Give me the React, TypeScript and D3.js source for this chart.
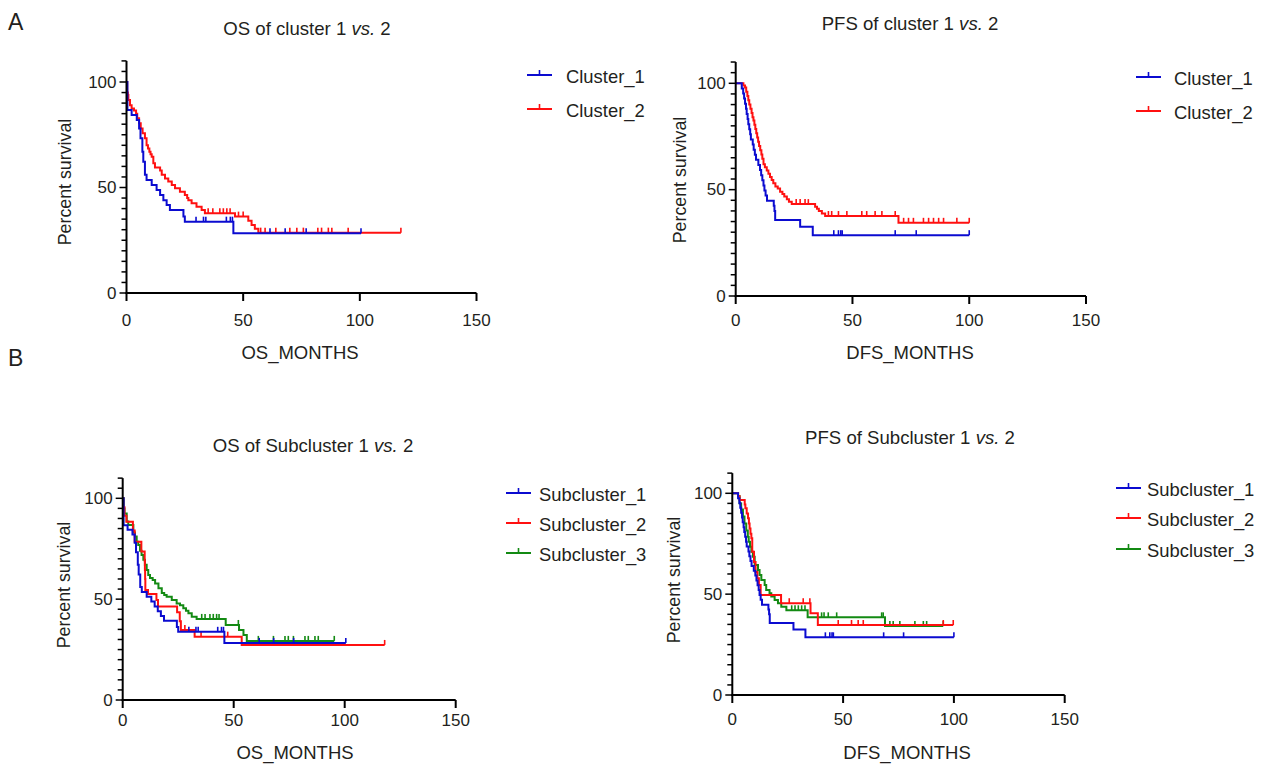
import React from "react";
import * as d3 from "d3";

// ---------- DATA ----------
// Kaplan-Meier steps: [time (months), survival % after the drop]
const os1Steps: [number, number][] = [[0.4,86.7],[2.2,84.4],[4.4,82],[5.4,78],[6,73.3],[6.8,67],[7.2,62.2],[7.9,56],[8.6,53.6],[10.8,51.2],[12.9,48.8],[14.4,46.4],[15.8,44],[17.2,41.7],[18.6,39.3],[24.4,36.2],[25,33.8],[45.8,28.3]];
const os1Censor: number[] = [29.8,33,34,42.8,44.5,45.4,61.5,68,77,100.5];

const os2Steps: [number, number][] = [[0.3,95],[0.6,93.8],[0.8,91.5],[1.5,89],[2.2,87.5],[3.2,86.5],[4.1,85],[4.6,82.8],[5.4,80.4],[6.1,78],[6.9,75.7],[7.9,73.3],[8.6,70],[9.2,68.5],[9.8,67],[10.3,65.8],[10.8,64.6],[11.5,61.5],[12.2,59.5],[14.4,58],[15.1,56],[16.5,54.3],[17.9,52.8],[19.4,51.2],[20.8,49.6],[22.9,48],[25,46.4],[26,45],[26.5,44],[27.9,42.5],[30,40.9],[32.2,39.3],[33.6,37.8],[46.5,36.2],[52.2,34.2],[53.6,32.2],[55,30.5],[56.5,28.6]];
const os2Censor: number[] = [35,37,40,41.5,43,44.4,48,50,57.5,59.4,64,70,73,75.8,82,83.6,86.5,88,95,117.6];

const pfs1Steps: [number, number][] = [[2.6,97.6],[3.2,95.2],[3.6,92.8],[4,90.4],[4.4,88],[4.7,85.6],[5.1,83.2],[5.4,80.8],[5.8,78.4],[6.2,76],[6.5,73.6],[7.3,71.2],[7.7,68.8],[8.2,66.4],[8.7,64],[9.7,61.6],[10.4,59.2],[10.9,56.8],[11.4,54.4],[11.9,52],[12.3,49.6],[12.8,47.2],[13.4,44.8],[16.3,42.4],[16.6,40],[16.9,35.7],[27.6,32.5],[33,28.6]];
const pfs1Censor: number[] = [42,44,45,45.6,68.3,77.3,100];

const pfs2Steps: [number, number][] = [[3.3,99],[4,98],[4.5,96],[5,94],[5.4,92],[5.8,90],[6.3,88],[6.8,86],[7.2,84],[7.6,82.5],[8,80.5],[8.4,78.5],[8.8,76.5],[9.2,74.5],[9.6,72.5],[10,70.5],[10.5,68.5],[11,66.5],[11.4,64.5],[11.9,62],[12.5,60.5],[13.3,59],[14,57.5],[14.7,56],[15.4,54.5],[16.1,53],[17,51.5],[18,50.5],[19,49],[20,48],[20.8,46.8],[21.9,45.5],[22.8,44.3],[24,43.2],[34,42],[34.8,41],[35.6,40],[36.9,38.8],[38.3,37.6],[69.7,34.4]];
const pfs2Censor: number[] = [25.9,27.6,29.7,31.1,39.7,41.1,44,47.6,54,56.1,59.7,62.6,68.3,71.9,74,76.1,80.4,82.6,84.7,86.9,89,94.7,100];

const osSub2Steps: [number, number][] = [[0.3,95.6],[0.8,91.3],[1.7,88.4],[4.6,84],[5.4,78.5],[8.4,73.6],[9.9,69],[10,64.5],[10.1,60],[10.2,54.5],[11.4,52.5],[15.2,49.6],[15.9,46.3],[24.5,43.5],[25.7,39],[26.2,34.7],[32.4,31.4],[53.6,27.3]];
const osSub2Censor: number[] = [28,35.3,47.3,118];

const osSub3Steps: [number, number][] = [[0.5,95],[0.8,92.5],[1.8,88.5],[2.5,86.8],[4.8,83],[5.5,81],[6.3,78.5],[7,76.9],[7.8,74],[8.5,71.9],[9.3,69.5],[10,67],[10.8,64.5],[11.5,62],[12.3,60.5],[13.5,59.5],[14.6,57.8],[16.1,55.4],[17.6,53],[18.7,52],[19.8,51.2],[22.1,49.6],[24.3,47.9],[25.8,47],[27.3,45.5],[28.5,44.2],[29.6,43],[31.1,41.3],[33.3,40.2],[46.4,37.2],[52.4,34.7],[54.4,32.2],[55.9,29.3]];
const osSub3Censor: number[] = [35.6,37.1,39.3,40.8,42.3,43.4,52.1,61.1,67.9,73.1,74.6,76.9,82.1,83.6,86.6,88.1,95.3];

const pfsSub2Steps: [number, number][] = [[2.6,98.5],[3.3,96.7],[5.6,94.5],[5.9,92.6],[6.5,90],[7.1,87.6],[7.5,85],[7.8,82.6],[8.2,80],[8.6,77.7],[9,71],[9.8,66],[10.5,61],[11.3,57.9],[12,54.5],[12.8,49.6],[22,45.5],[35.3,40.5],[38.6,34.7]];
const pfsSub2Censor: number[] = [25.7,32,35,47.8,53.8,56.8,59.1,95.2,99.7];

const pfsSub3Steps: [number, number][] = [[2.6,98.5],[3.3,95],[4,92],[4.8,88.5],[5.5,85],[6.3,81.5],[7,78.5],[7.4,76],[8,73.5],[8.6,71],[9.3,68.6],[10.1,64.5],[11.6,62],[12.3,59.5],[13.1,57],[14.6,54.5],[15.3,52],[16.8,50.4],[17.6,48.8],[19.1,47.1],[20.6,45.5],[22.1,43.8],[24.4,42],[34,38.5],[68.9,34.2]];
const pfsSub3Censor: number[] = [26.8,28.3,29.8,31.3,32.8,40.3,41.4,43.3,47.1,67.4,68.1,71.1,72.6,75.6,82.4,86.2,87.7,95.2];

const xTicks: number[] = [0, 50, 100, 150];
const yTicks: number[] = [0, 50, 100];
const yMinorTicks: number[] = d3.range(0, 111, 5);

const clusterNames = ["Cluster_1", "Cluster_2"];
const subNames = ["Subcluster_1", "Subcluster_2", "Subcluster_3"];
const BLUE = "#0b0bd0";
const RED = "#ff1010";
const GREEN = "#138a13";

const FONT = "'Liberation Sans', Arial, Helvetica, sans-serif";
const TXT = "#231f20";

type Series = { name: string; color: string; steps: [number, number][]; censor: number[] };

type PanelCfg = {
  title: [string, string];
  xLabel: string;
  xLeft: number; xRight: number; yZero: number; y100: number;
  titleX: number; titleY: number;
  xLabelX: number; xLabelY: number;
  yLabelX: number; yLabelY: number;
  xTickY: number;
  legLineX: number; legTextX: number; legRows: number[];
  series: Series[];
};

function survAt(steps: [number, number][], t: number): number {
  let s = 100;
  for (const [ti, si] of steps) { if (ti <= t) s = si; else break; }
  return s;
}

const Panel: React.FC<{ cfg: PanelCfg }> = ({ cfg }) => {
  const x = d3.scaleLinear().domain([0, 150]).range([cfg.xLeft, cfg.xRight]);
  const y = d3.scaleLinear().domain([0, 100]).range([cfg.yZero, cfg.y100]);
  const yTop = y(110);
  const line = d3.line<[number, number]>().x(d => x(d[0])).y(d => y(d[1])).curve(d3.curveStepAfter);
  const legendSeries = [...cfg.series].sort((a, b) => a.name.localeCompare(b.name));
  return (
    <g fontFamily={FONT} fill={TXT}>
      <text x={cfg.titleX} y={cfg.titleY} textAnchor="middle" fontSize={18.6} dominantBaseline="central">
        {cfg.title[0]}<tspan fontStyle="italic">vs.</tspan>{cfg.title[1]}
      </text>
      {cfg.series.map(s => {
        const end = Math.max(s.censor.length ? d3.max(s.censor)! : 0, s.steps[s.steps.length - 1][0]);
        const pts: [number, number][] = [[0, 100], ...s.steps, [end, s.steps[s.steps.length - 1][1]]];
        return (
          <g key={s.name}>
            <path d={line(pts) || ""} fill="none" stroke={s.color} strokeWidth={2} />
            {s.censor.map((c, i) => {
              const yy = y(survAt(s.steps, c));
              return <line key={i} x1={x(c)} x2={x(c)} y1={yy} y2={yy - 5} stroke={s.color} strokeWidth={1.6} />;
            })}
          </g>
        );
      })}
      <line x1={cfg.xLeft} x2={cfg.xLeft} y1={yTop} y2={cfg.yZero + 1} stroke="#000" strokeWidth={2} />
      {yMinorTicks.map(v => (
        <line key={v} x1={cfg.xLeft - (v % 50 === 0 ? 7 : 5)} x2={cfg.xLeft} y1={y(v)} y2={y(v)} stroke="#000" strokeWidth={1.5} />
      ))}
      {yTicks.map(v => (
        <text key={v} x={cfg.xLeft - 10} y={y(v)} textAnchor="end" dominantBaseline="central" fontSize={17}>{v}</text>
      ))}
      <line x1={cfg.xLeft - 1} x2={cfg.xRight} y1={cfg.yZero} y2={cfg.yZero} stroke="#000" strokeWidth={2} />
      {xTicks.map(v => (
        <g key={v}>
          <line x1={x(v)} x2={x(v)} y1={cfg.yZero} y2={cfg.yZero + 8} stroke="#000" strokeWidth={2} />
          <text x={x(v)} y={cfg.xTickY} textAnchor="middle" dominantBaseline="central" fontSize={17}>{v}</text>
        </g>
      ))}
      <text x={cfg.xLabelX} y={cfg.xLabelY} textAnchor="middle" dominantBaseline="central" fontSize={18.5}>{cfg.xLabel}</text>
      <text transform={`translate(${cfg.yLabelX},${cfg.yLabelY}) rotate(-90)`} textAnchor="middle" dominantBaseline="central" fontSize={17.8}>Percent survival</text>
      {legendSeries.map((s, i) => {
        const ly = cfg.legRows[i];
        return (
          <g key={s.name}>
            <line x1={cfg.legLineX} x2={cfg.legLineX + 25} y1={ly} y2={ly} stroke={s.color} strokeWidth={2} />
            <line x1={cfg.legLineX + 12.5} x2={cfg.legLineX + 12.5} y1={ly} y2={ly - 5} stroke={s.color} strokeWidth={1.6} />
            <text x={cfg.legTextX} y={ly + 1} dominantBaseline="central" fontSize={18.4}>{s.name}</text>
          </g>
        );
      })}
    </g>
  );
};

const panels: PanelCfg[] = [
  {
    title: ["OS of cluster 1 ", " 2"], xLabel: "OS_MONTHS",
    xLeft: 126.5, xRight: 476.5, yZero: 293, y100: 82,
    titleX: 307, titleY: 28, xLabelX: 300, xLabelY: 352, yLabelX: 65, yLabelY: 182, xTickY: 320,
    legLineX: 527, legTextX: 566, legRows: [75, 109],
    series: [
      { name: clusterNames[1], color: RED, steps: os2Steps, censor: os2Censor },
      { name: clusterNames[0], color: BLUE, steps: os1Steps, censor: os1Censor },
    ],
  },
  {
    title: ["PFS of cluster 1 ", " 2"], xLabel: "DFS_MONTHS",
    xLeft: 735.7, xRight: 1086, yZero: 296, y100: 83.3,
    titleX: 910, titleY: 23, xLabelX: 910, xLabelY: 352, yLabelX: 680, yLabelY: 180, xTickY: 320,
    legLineX: 1136, legTextX: 1174, legRows: [77, 111],
    series: [
      { name: clusterNames[1], color: RED, steps: pfs2Steps, censor: pfs2Censor },
      { name: clusterNames[0], color: BLUE, steps: pfs1Steps, censor: pfs1Censor },
    ],
  },
  {
    title: ["OS of Subcluster 1 ", " 2"], xLabel: "OS_MONTHS",
    xLeft: 122.7, xRight: 455.7, yZero: 700, y100: 498.3,
    titleX: 313, titleY: 445, xLabelX: 295, xLabelY: 752, yLabelX: 64, yLabelY: 585, xTickY: 720,
    legLineX: 506, legTextX: 539, legRows: [493, 523, 553],
    series: [
      { name: subNames[2], color: GREEN, steps: osSub3Steps, censor: osSub3Censor },
      { name: subNames[1], color: RED, steps: osSub2Steps, censor: osSub2Censor },
      { name: subNames[0], color: BLUE, steps: os1Steps, censor: os1Censor },
    ],
  },
  {
    title: ["PFS of Subcluster 1 ", " 2"], xLabel: "DFS_MONTHS",
    xLeft: 732.3, xRight: 1064.7, yZero: 695, y100: 493.3,
    titleX: 910, titleY: 437, xLabelX: 907, xLabelY: 752, yLabelX: 674, yLabelY: 580, xTickY: 719,
    legLineX: 1116, legTextX: 1147, legRows: [488, 518, 549],
    series: [
      { name: subNames[2], color: GREEN, steps: pfsSub3Steps, censor: pfsSub3Censor },
      { name: subNames[1], color: RED, steps: pfsSub2Steps, censor: pfsSub2Censor },
      { name: subNames[0], color: BLUE, steps: pfs1Steps, censor: pfs1Censor },
    ],
  },
];

export default function App() {
  return (
    <svg width={1261} height={765} style={{ position: "absolute", left: 0, top: 0, background: "#fff" }}>
      <rect width={1261} height={765} fill="#fff" />
      <text x={8} y={22} fontFamily={FONT} fontSize={23} fill={TXT} dominantBaseline="central">A</text>
      <text x={8} y={358} fontFamily={FONT} fontSize={23} fill={TXT} dominantBaseline="central">B</text>
      {panels.map((p, i) => <Panel key={i} cfg={p} />)}
    </svg>
  );
}
